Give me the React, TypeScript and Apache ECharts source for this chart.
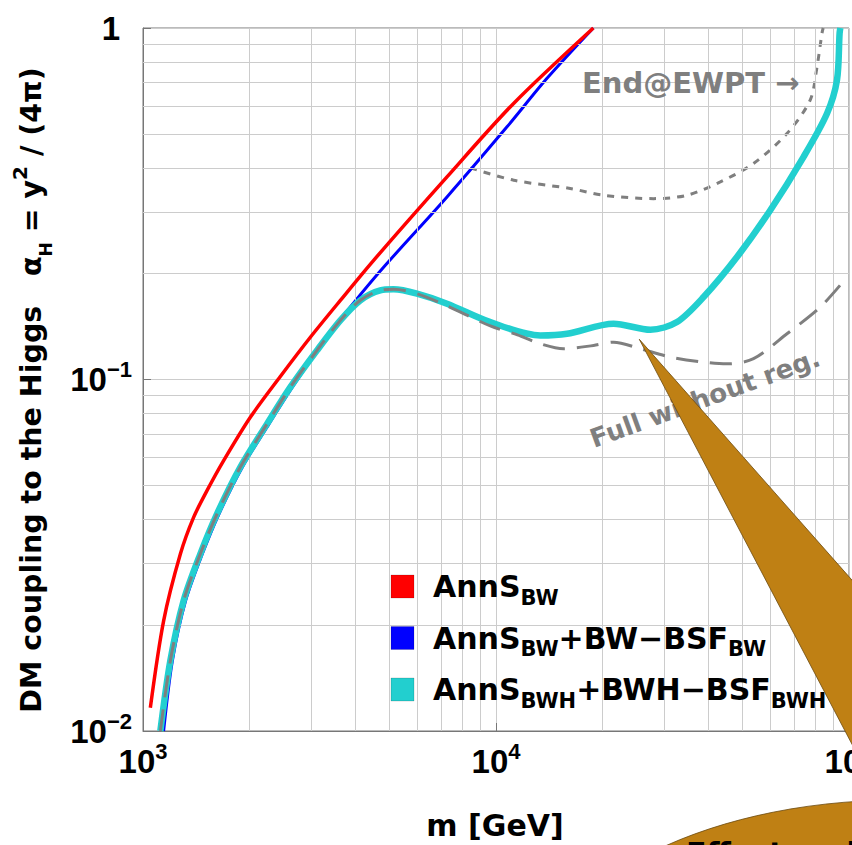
import React, { useEffect, useRef } from 'react';
import * as echarts from 'echarts';

// ---- axis ticks / grid ----
const xTickExponents = [3, 4, 5];
const yTickExponents = [-2, -1, 0];
const xMinorGrid = [2000, 3000, 4000, 5000, 6000, 7000, 8000, 9000, 20000, 30000, 40000, 50000, 60000, 70000, 80000, 90000];
const yMinorGrid = [0.02, 0.03, 0.04, 0.05, 0.06, 0.07, 0.08, 0.09, 0.2, 0.3, 0.4, 0.5, 0.6, 0.7, 0.8, 0.9];

// ---- series: AnnS_BW (red) ----
const annSMass = [1049, 1144, 1276, 1391, 1518, 1692, 2014, 2449, 2979, 3623, 4502, 7264, 11217, 18870];
const annSAlpha = [0.01165, 0.02058, 0.03187, 0.04052, 0.04828, 0.05878, 0.0781, 0.102, 0.1319, 0.1679, 0.2183, 0.3771, 0.6101, 1.0];

// ---- series: AnnS_BW + BW-BSF_BW (blue) ----
const bwMass = [1144, 1211, 1320, 1472, 1641, 1911, 2275, 2649, 3320, 3951, 4858, 7264, 10745, 13948, 18870];
const bwAlpha = [0.01, 0.01583, 0.02346, 0.03187, 0.04143, 0.05627, 0.07478, 0.09508, 0.1325, 0.1652, 0.2113, 0.3307, 0.5234, 0.7191, 1.0];

// ---- series: AnnS_BWH + BWH-BSF_BWH (cyan) ----
const bwhMass = [1120, 1195, 1303, 1453, 1620, 1886, 2246, 2615, 3111, 3623, 4127, 4700, 5127, 5973, 7264, 9637, 13350, 15890, 21530, 27380, 32570, 38730, 48150, 59840, 74360, 86640, 92470, 94050, 94500];
const bwhAlpha = [0.01, 0.01583, 0.02346, 0.03187, 0.04143, 0.05627, 0.07478, 0.09508, 0.121, 0.1473, 0.168, 0.1793, 0.1805, 0.1754, 0.1643, 0.1456, 0.1334, 0.1349, 0.1441, 0.1385, 0.1457, 0.1716, 0.223, 0.303, 0.43, 0.571, 0.711, 0.966, 1.0];

// ---- series: Full without reg. (gray dashed) ----
const fullMass = [1120, 1195, 1303, 1453, 1620, 1886, 2246, 2615, 3111, 3623, 4127, 4700, 5127, 5973, 7264, 9637, 11500, 13350, 15540, 18900, 21530, 25630, 31170, 38730, 45110, 53650, 66720, 82930, 98700];
const fullAlpha = [0.01, 0.01583, 0.02346, 0.03187, 0.04143, 0.05627, 0.07478, 0.09508, 0.121, 0.1473, 0.168, 0.1793, 0.1805, 0.1754, 0.162, 0.142, 0.134, 0.1264, 0.1223, 0.125, 0.1277, 0.1223, 0.1158, 0.112, 0.1108, 0.1146, 0.1349, 0.1607, 0.1956];

// ---- series: End@EWPT (gray dotted) ----
const ewptMass = [8457, 11217, 16230, 20170, 27960, 34750, 43190, 53650, 66720, 77630, 81180, 83830, 84500];
const ewptAlpha = [0.4, 0.369, 0.3495, 0.3343, 0.327, 0.3343, 0.3649, 0.4117, 0.501, 0.6235, 0.7758, 0.966, 1.0];

const legendEntries = [
  { color: '#ff0000', text: '{a|AnnS}{b|BW}' },
  { color: '#0000ff', text: '{a|AnnS}{b|BW}{a|+BW\u2212BSF}{b|BW}' },
  { color: '#22cfcf', text: '{a|AnnS}{b|BWH}{a|+BWH\u2212BSF}{b|BWH}' },
];

const pairs = (m: number[], a: number[]) => m.map((v, i) => [v, a[i]]);

export default function App() {
  const ref = useRef<HTMLDivElement>(null);
  useEffect(() => {
    const chart = echarts.init(ref.current!, null, { renderer: 'svg' });
    const TXT = 'DejaVu Sans';
    const NUM = 'Liberation Sans';
    const GRID = '#cccccc';
    const FRAME = '#777777';
    const numRich = {
      b: { fontFamily: NUM, fontWeight: 'bold', fontSize: 33, lineHeight: 36, color: '#000' },
      s: { fontFamily: NUM, fontWeight: 'bold', fontSize: 22, height: 16, lineHeight: 16, verticalAlign: 'top', color: '#000' },
      one: { fontFamily: NUM, fontWeight: 'bold', fontSize: 33, lineHeight: 36, color: '#000', padding: [0, 12, 0, 0] },
    };
    const legendRich = {
      a: { fontFamily: TXT, fontWeight: 'bold', fontSize: 30, lineHeight: 36, color: '#000' },
      b: { fontFamily: TXT, fontWeight: 'bold', fontSize: 21, height: 14, lineHeight: 14, verticalAlign: 'bottom', color: '#000' },
    };
    const graphics: any[] = [];
    // y axis title
    graphics.push({
      type: 'text', x: 31, y: 390, rotation: Math.PI / 2, z: 50,
      style: {
        text: '{t|DM coupling to the Higgs   \u03b1}{h|H}{t| = y}{p|2}{t| / (4\u03c0)}',
        align: 'center', verticalAlign: 'middle',
        rich: {
          t: { fontFamily: TXT, fontWeight: 'bold', fontSize: 28.5, lineHeight: 40, color: '#000' },
          h: { fontFamily: TXT, fontWeight: 'bold', fontSize: 17, height: 10, lineHeight: 10, verticalAlign: 'bottom', color: '#000' },
          p: { fontFamily: TXT, fontWeight: 'bold', fontSize: 20, height: 18, lineHeight: 18, verticalAlign: 'top', color: '#000' },
        },
      },
    });
    // x axis title
    graphics.push({
      type: 'text', x: 495, y: 825, z: 50,
      style: { text: 'm [GeV]', fontFamily: TXT, fontWeight: 'bold', fontSize: 30, fill: '#000', align: 'center', verticalAlign: 'middle' },
    });
    // annotations
    graphics.push({
      type: 'text', x: 582, y: 83, z: 50,
      style: { text: 'End@EWPT \u2192', fontFamily: TXT, fontWeight: 'bold', fontSize: 29, fill: '#7f7f7f', align: 'left', verticalAlign: 'middle' },
    });
    graphics.push({
      type: 'text', x: 705, y: 398, rotation: 0.349, z: 50,
      style: { text: 'Full without reg.', fontFamily: TXT, fontWeight: 'bold', fontSize: 26, fill: '#7f7f7f', align: 'center', verticalAlign: 'middle' },
    });
    // legend
    legendEntries.forEach((e, i) => {
      const cy = 586.5 + i * 51.5;
      graphics.push({ type: 'rect', z: 50, shape: { x: 391, y: cy - 11.5, width: 23, height: 23 }, style: { fill: e.color, stroke: 'rgba(0,0,0,0.15)', lineWidth: 1 } });
      graphics.push({ type: 'text', z: 50, x: 433, y: cy, style: { text: e.text, rich: legendRich, align: 'left', verticalAlign: 'middle' } });
    });
    // callout shapes
    graphics.push({
      type: 'polygon', z: 100,
      shape: { points: [[639.3, 339.3], [870, 600.5], [870, 778.5]] },
      style: { fill: '#bf8014', stroke: '#6b4a10', lineWidth: 0.8 },
    });
    graphics.push({
      type: 'ellipse', z: 100,
      shape: { cx: 900, cy: 1000, rx: 368, ry: 200 },
      style: { fill: '#bf8014', stroke: '#6b4a10', lineWidth: 0.8 },
    });
    graphics.push({
      type: 'text', x: 686, y: 853, z: 101,
      style: { text: 'Effect and', fontFamily: TXT, fontWeight: 'bold', fontSize: 30, fill: '#000', align: 'left', verticalAlign: 'middle' },
    });

    chart.setOption({
      animation: false,
      backgroundColor: '#ffffff',
      grid: {
        left: 143, top: 28, width: 706, height: 703, show: true, borderColor: FRAME, borderWidth: 1,
        backgroundColor: 'transparent', containLabel: false, outerBoundsMode: 'none',
      },
      xAxis: {
        type: 'log', logBase: 10, min: 1000, max: 100000,
        axisLine: { show: true, lineStyle: { color: FRAME, width: 1 } },
        axisTick: { show: true, inside: true, length: 8, lineStyle: { color: FRAME } },
        splitLine: { show: true, lineStyle: { color: GRID, width: 1 } },
        axisLabel: {
          margin: 12, showMinLabel: true, showMaxLabel: true, hideOverlap: false,
          formatter: (v: number) => {
            const e = Math.round(Math.log10(v));
            return xTickExponents.includes(e) ? `{b|10}{s|${e}}` : '';
          },
          rich: numRich,
        },
      },
      yAxis: {
        type: 'log', logBase: 10, min: 0.01, max: 1,
        axisLine: { show: true, lineStyle: { color: FRAME, width: 1 } },
        axisTick: { show: true, inside: true, length: 8, lineStyle: { color: FRAME } },
        splitLine: { show: true, lineStyle: { color: GRID, width: 1 } },
        axisLabel: {
          margin: 11, showMinLabel: true, showMaxLabel: true,
          formatter: (v: number) => {
            const e = Math.round(Math.log10(v));
            if (!yTickExponents.includes(e)) return '';
            return e === 0 ? '{one|1}' : `{b|10}{s|\u2212${-e}}`;
          },
          rich: numRich,
        },
      },
      series: [
        {
          type: 'line', name: 'grid', data: [[1000, 0.01]], symbol: 'none', silent: true, z: 1,
          lineStyle: { opacity: 0 },
          markLine: {
            silent: true, symbol: ['none', 'none'], label: { show: false }, animation: false,
            lineStyle: { color: GRID, width: 1, type: 'solid' },
            emphasis: { disabled: true },
            data: [...xMinorGrid.map((v) => ({ xAxis: v })), ...yMinorGrid.map((v) => ({ yAxis: v }))],
          },
        },
        {
          type: 'line', name: 'End@EWPT', data: pairs(ewptMass, ewptAlpha), symbol: 'none', smooth: 0.3, z: 3,
          lineStyle: { color: '#7f7f7f', width: 3, type: [7, 7] },
        },
        {
          type: 'line', name: 'AnnS_BW+BW-BSF_BW', data: pairs(bwMass, bwAlpha), symbol: 'none', smooth: 0.3, z: 4,
          lineStyle: { color: '#0000ff', width: 3 },
        },
        {
          type: 'line', name: 'AnnS_BW', data: pairs(annSMass, annSAlpha), symbol: 'none', smooth: 0.3, z: 5,
          lineStyle: { color: '#ff0000', width: 3.5 },
        },
        {
          type: 'line', name: 'AnnS_BWH+BWH-BSF_BWH', data: pairs(bwhMass, bwhAlpha), symbol: 'none', smooth: 0.3, z: 6,
          lineStyle: { color: '#22cfcf', width: 6.5 },
        },
        {
          type: 'line', name: 'Full without reg.', data: pairs(fullMass, fullAlpha), symbol: 'none', smooth: 0.3, z: 7,
          lineStyle: { color: '#7f7f7f', width: 3, type: [22, 12] },
        },
      ],
      graphic: graphics,
    });
    return () => chart.dispose();
  }, []);
  return <div ref={ref} style={{ position: 'fixed', left: 0, top: 0, width: 852, height: 845, background: '#fff' }} />;
}
